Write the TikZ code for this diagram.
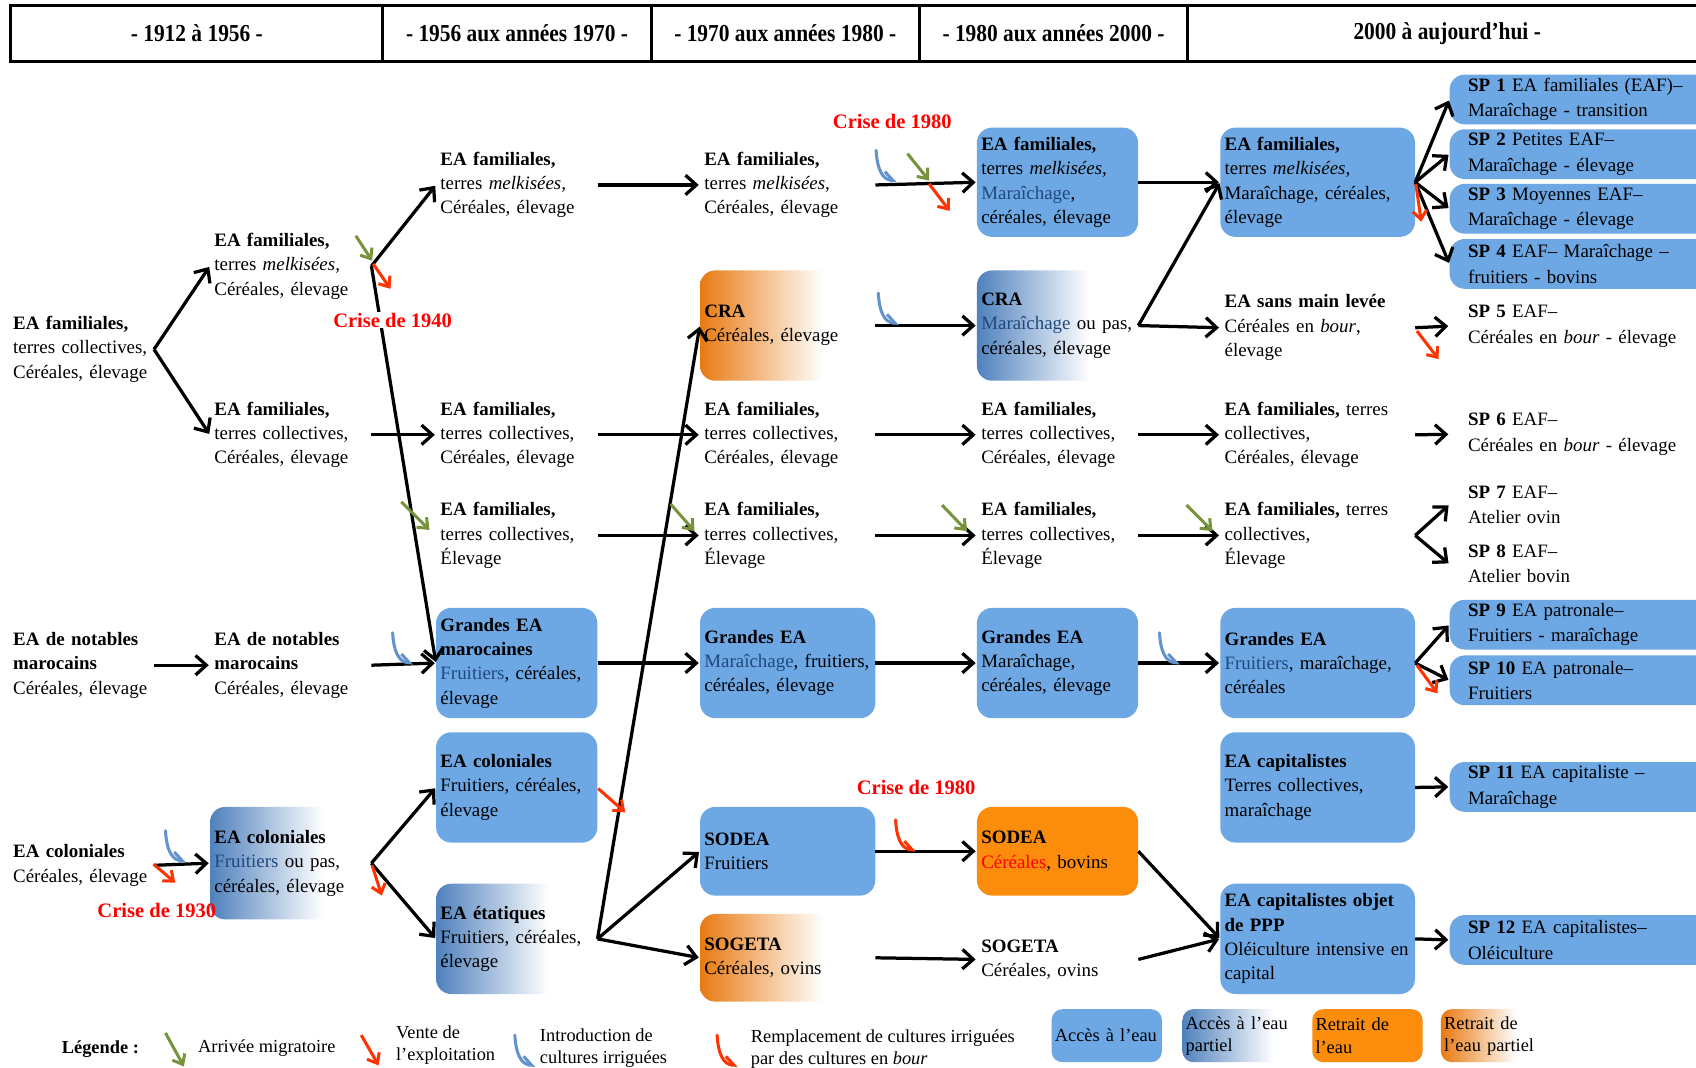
\documentclass[tikz,border=0pt]{standalone}
\usepackage{fontspec}
\setmainfont{Liberation Serif}
\newfontfamily\hdrfont[FakeStretch=0.88]{Liberation Serif}
\usetikzlibrary{arrows.meta}
\definecolor{boxblue}{RGB}{109,168,229}
\definecolor{gradblue}{RGB}{79,129,189}
\definecolor{dblue}{RGB}{31,73,125}
\definecolor{orangeS}{RGB}{251,140,12}
\definecolor{gradorange}{RGB}{232,122,17}
\definecolor{redT}{RGB}{255,0,0}
\definecolor{redA}{RGB}{255,51,0}
\definecolor{greenA}{RGB}{119,147,60}
\definecolor{hookblue}{RGB}{99,146,205}
\pgfdeclarehorizontalshading{bluefade}{100bp}{color(0bp)=(gradblue); color(25bp)=(gradblue); color(60bp)=(white); color(100bp)=(white)}
\pgfdeclarehorizontalshading{orangefade}{100bp}{color(0bp)=(gradorange); color(25bp)=(gradorange); color(60bp)=(white); color(100bp)=(white)}
\newcommand\dbl[1]{\textcolor{dblue}{#1}}
\tikzset{
 txt/.style={anchor=west, align=left, inner xsep=4pt, inner ysep=2pt, font=\fontsize{17.5}{22.5}\selectfont},
 w0/.style={text width=126pt, minimum width=134pt},
 wA/.style={text width=141pt, minimum width=149pt},
 wB/.style={text width=154pt, minimum width=162pt},
 wC/.style={text width=172pt, minimum width=180pt},
 wsp/.style={text width=246pt, minimum width=280pt, inner xsep=17pt, minimum height=46pt, font=\fontsize{17.5}{23.5}\selectfont},
 bbox/.style={txt, fill=boxblue, rounded corners=14pt},
 gbbox/.style={txt, shade, shading=bluefade, rounded corners=14pt},
 obox/.style={txt, fill=orangeS, rounded corners=14pt},
 ogbox/.style={txt, shade, shading=orangefade, rounded corners=14pt},
 hdr/.style={font=\hdrfont\bfseries\fontsize{22.5}{25}\selectfont, inner sep=0pt},
 hdrline/.style={line width=2.8pt},
 crise/.style={font=\bfseries\fontsize{19}{22}\selectfont, text=redT, inner sep=1pt},
 lgd/.style={anchor=west, align=left, inner sep=0pt, font=\fontsize{17}{20.5}\selectfont},
 lbox/.style={lgd, inner xsep=3pt, minimum height=49pt, rounded corners=10pt},
 arr/.style={line width=3pt, -{Straight Barb[length=10pt,width=18pt]}, shorten >=1pt},
 garr/.style={draw=greenA, line width=2.8pt, -{Straight Barb[length=8pt,width=13pt]}},
 rarr/.style={draw=redA, line width=2.8pt, -{Straight Barb[length=8pt,width=13pt]}},
 irrhook/.pic={\draw[line width=2.8pt, line cap=round, -{Straight Barb[left,length=8pt,width=15pt]}] (0,0) .. controls (1,18) and (6,27) .. (19,28);}
}
\begin{document}
\begin{tikzpicture}[x=1pt,y=-1pt]
\useasboundingbox (0,0) rectangle (1568,987);
\fill[white] (0,0) rectangle (1568,987);
% header
\draw[hdrline] (10,5) rectangle (1590,57);
\foreach \x in {354,602,850,1098} \draw[hdrline] (\x,5) -- (\x,57);
\node[hdr] (h1) at (182,31) {- 1912 à 1956 -};
\node[hdr] (h2) at (478,31) {- 1956 aux années 1970 -};
\node[hdr] (h3) at (726,31) {- 1970 aux années 1980 -};
\node[hdr] (h4) at (974,31) {- 1980 aux années 2000 -};
\node[hdr] (h5) at (1338,31) {2000 à aujourd’hui -};
% column 0
\node[txt,w0] (a0) at (8,323) {\textbf{EA familiales,}\\terres collectives,\\Céréales, élevage};
\node[txt,w0] (b0) at (8,615) {\textbf{EA de notables}\\\textbf{marocains}\\Céréales, élevage};
\node[txt,w0] (c0) at (8,800) {\textbf{EA coloniales}\\Céréales, élevage};
% column 1
\node[txt,wA] (n1a) at (194,246) {\textbf{EA familiales,}\\terres \textit{melkisées,}\\Céréales, élevage};
\node[txt,wA] (n1b) at (194,402) {\textbf{EA familiales,}\\terres collectives,\\Céréales, élevage};
\node[txt,wA] (n1c) at (194,615) {\textbf{EA de notables}\\\textbf{marocains}\\Céréales, élevage};
\node[gbbox,wA,minimum height=104pt] (n1d) at (194,798) {\textbf{EA coloniales}\\\dbl{Fruitiers} ou pas,\\céréales, élevage};
% column 2
\node[txt,wA] (n2a) at (403,171) {\textbf{EA familiales,}\\terres \textit{melkisées,}\\Céréales, élevage};
\node[txt,wA] (n2b) at (403,402) {\textbf{EA familiales,}\\terres collectives,\\Céréales, élevage};
\node[txt,wA] (n2c) at (403,495) {\textbf{EA familiales,}\\terres collectives,\\Élevage};
\node[bbox,wA,minimum height=102pt] (n2d) at (403,613) {\textbf{Grandes EA}\\\textbf{marocaines}\\\dbl{Fruitiers}, céréales,\\élevage};
\node[bbox,wA,minimum height=102pt] (n2e) at (403,728) {\textbf{EA coloniales}\\Fruitiers, céréales,\\élevage};
\node[gbbox,wA,minimum height=102pt] (n2f) at (403,868) {\textbf{EA étatiques}\\Fruitiers, céréales,\\élevage};
% column 3
\node[txt,wB] (n3a) at (647,171) {\textbf{EA familiales,}\\terres \textit{melkisées,}\\Céréales, élevage};
\node[ogbox,wB,minimum height=102pt] (n3b) at (647,301) {\textbf{CRA}\\Céréales, élevage};
\node[txt,wB] (n3c) at (647,402) {\textbf{EA familiales,}\\terres collectives,\\Céréales, élevage};
\node[txt,wB] (n3d) at (647,495) {\textbf{EA familiales,}\\terres collectives,\\Élevage};
\node[bbox,wB,minimum height=102pt] (n3e) at (647,613) {\textbf{Grandes EA}\\\dbl{Maraîchage}, fruitiers,\\céréales, élevage};
\node[bbox,wB,minimum height=82pt] (n3f) at (647,787) {\textbf{SODEA}\\Fruitiers};
\node[ogbox,wB,minimum height=81pt] (n3g) at (647,885.5) {\textbf{SOGETA}\\Céréales, ovins};
% column 4
\node[bbox,wA,minimum height=101pt] (n4a) at (903,168.5) {\textbf{EA familiales,}\\terres \textit{melkisées,}\\\dbl{Maraîchage},\\céréales, élevage};
\node[gbbox,wA,minimum height=102pt] (n4b) at (903,301) {\textbf{CRA}\\\dbl{Maraîchage} ou pas,\\céréales, élevage};
\node[txt,wA] (n4c) at (903,402) {\textbf{EA familiales,}\\terres collectives,\\Céréales, élevage};
\node[txt,wA] (n4d) at (903,495) {\textbf{EA familiales,}\\terres collectives,\\Élevage};
\node[bbox,wA,minimum height=102pt] (n4e) at (903,613) {\textbf{Grandes EA}\\Maraîchage,\\céréales, élevage};
\node[obox,wA,minimum height=82pt] (n4f) at (903,787) {\textbf{SODEA}\\\textcolor{redT}{Céréales}, bovins};
\node[txt,wA] (n4g) at (903,887) {\textbf{SOGETA}\\Céréales, ovins};
% column 5
\node[bbox,wC,minimum height=101pt] (n5a) at (1128,168.5) {\textbf{EA familiales,}\\terres \textit{melkisées,}\\Maraîchage, céréales,\\élevage};
\node[txt,wC] (n5b) at (1128,303) {\textbf{EA sans main levée}\\Céréales en \textit{bour},\\élevage};
\node[txt,wC] (n5c) at (1128,402) {\textbf{EA familiales,} terres\\collectives,\\Céréales, élevage};
\node[txt,wC] (n5d) at (1128,495) {\textbf{EA familiales,} terres\\collectives,\\Élevage};
\node[bbox,wC,minimum height=102pt] (n5e) at (1128,613) {\textbf{Grandes EA}\\\dbl{Fruitiers}, maraîchage,\\céréales};
\node[bbox,wC,minimum height=102pt] (n5f) at (1128,728) {\textbf{EA capitalistes}\\Terres collectives,\\maraîchage};
\node[bbox,wC,minimum height=102pt] (n5g) at (1128,868) {\textbf{EA capitalistes objet}\\\textbf{de PPP}\\Oléiculture intensive en\\capital};
% column 6
\node[bbox,wsp] (sp1) at (1340,92) {\textbf{SP 1} EA familiales (EAF)–\\Maraîchage - transition};
\node[bbox,wsp] (sp2) at (1340,142.5) {\textbf{SP 2} Petites EAF–\\Maraîchage - élevage};
\node[bbox,wsp] (sp3) at (1340,193) {\textbf{SP 3} Moyennes EAF–\\Maraîchage - élevage};
\node[bbox,wsp] (sp4) at (1340,244) {\textbf{SP 4} EAF– Maraîchage –\\fruitiers - bovins};
\node[txt,wsp] (sp5) at (1340,301.5) {\textbf{SP 5} EAF–\\Céréales en \textit{bour} - élevage};
\node[txt,wsp] (sp6) at (1340,401.5) {\textbf{SP 6} EAF–\\Céréales en \textit{bour} - élevage};
\node[txt,wsp] (sp7) at (1340,466.5) {\textbf{SP 7} EAF–\\Atelier ovin};
\node[txt,wsp] (sp8) at (1340,521.5) {\textbf{SP 8} EAF–\\Atelier bovin};
\node[bbox,wsp] (sp9) at (1340,577.5) {\textbf{SP 9} EA patronale–\\Fruitiers - maraîchage};
\node[bbox,wsp] (sp10) at (1340,629) {\textbf{SP 10} EA patronale–\\Fruitiers};
\node[bbox,wsp] (sp11) at (1340,727.5) {\textbf{SP 11} EA capitaliste –\\Maraîchage};
\node[bbox,wsp] (sp12) at (1340,869) {\textbf{SP 12} EA capitalistes–\\Oléiculture};
% black connectors
\draw[arr] (a0.east) -- (n1a.west);
\draw[arr] (a0.east) -- (n1b.west);
\draw[arr] (b0.east) -- (n1c.west);
\draw[arr] (c0.east) -- (n1d.west);
\draw[arr] (n1a.east) -- (n2a.west);
\draw[arr] (n1a.east) -- (n2d.west);
\draw[arr] (n1b.east) -- (n2b.west);
\draw[arr] (n1c.east) -- (n2d.west);
\draw[arr] (n1d.east) -- (n2e.west);
\draw[arr] (n1d.east) -- (n2f.west);
\draw[arr] (n2a.east) -- (n3a.west);
\draw[arr] (n2b.east) -- (n3c.west);
\draw[arr] (n2c.east) -- (n3d.west);
\draw[arr] (n2d.east) -- (n3e.west);
\draw[arr] (n2f.east) -- (n3b.west);
\draw[arr] (n2f.east) -- (n3f.west);
\draw[arr] (n2f.east) -- (n3g.west);
\draw[arr] (n3a.east) -- (n4a.west);
\draw[arr] (n3b.east) -- (n4b.west);
\draw[arr] (n3c.east) -- (n4c.west);
\draw[arr] (n3d.east) -- (n4d.west);
\draw[arr] (n3e.east) -- (n4e.west);
\draw[arr] (n3f.east) -- (n4f.west);
\draw[arr] (n3g.east) -- (n4g.west);
\draw[arr] (n4a.east) -- (n5a.west);
\draw[arr] (n4b.east) -- (n5a.west);
\draw[arr] (n4b.east) -- (n5b.west);
\draw[arr] (n4c.east) -- (n5c.west);
\draw[arr] (n4d.east) -- (n5d.west);
\draw[arr] (n4e.east) -- (n5e.west);
\draw[arr] (n4f.east) -- (n5g.west);
\draw[arr] (n4g.east) -- (n5g.west);
\draw[arr] (n5a.east) -- (sp1.west);
\draw[arr] (n5a.east) -- (sp2.west);
\draw[arr] (n5a.east) -- (sp3.west);
\draw[arr] (n5a.east) -- (sp4.west);
\draw[arr] (n5b.east) -- (sp5.west);
\draw[arr] (n5c.east) -- (sp6.west);
\draw[arr] (n5d.east) -- (sp7.west);
\draw[arr] (n5d.east) -- (sp8.west);
\draw[arr] (n5e.east) -- (sp9.west);
\draw[arr] (n5e.east) -- (sp10.west);
\draw[arr] (n5f.east) -- (sp11.west);
\draw[arr] (n5g.east) -- (sp12.west);
% migration arrows
\draw[garr] (329,218) -- (344,241);
\draw[garr] (371,464) -- (397,490);
\draw[garr] (620,466) -- (642,491);
\draw[garr] (839,142) -- (859,167);
\draw[garr] (871,467) -- (894,491);
\draw[garr] (1097,467) -- (1121,491);
% sale arrows
\draw[rarr] (345,244) -- (361,267);
\draw[rarr] (142,799) -- (162,816);
\draw[rarr] (344,800) -- (353,828);
\draw[rarr] (553,729) -- (578,751);
\draw[rarr] (859,170) -- (878,195);
\draw[rarr] (1309,170) -- (1314,205);
\draw[rarr] (1310,306) -- (1330,332);
\draw[rarr] (1310,615) -- (1329,641);
% irrigation hooks
\pic[color=hookblue] at (153,768) {irrhook};
\pic[color=hookblue] at (363,585) {irrhook};
\pic[color=hookblue] at (810,139) {irrhook};
\pic[color=hookblue] at (812,271) {irrhook};
\pic[color=hookblue] at (1072,585) {irrhook};
\pic[color=redA] at (828,758) {irrhook};
% crisis labels
\node[crise,fill=white] (k40) at (363,296) {Crise de 1940};
\node[crise] (k30) at (145,842) {Crise de 1930};
\node[crise] (k80a) at (825,112) {Crise de 1980};
\node[crise] (k80b) at (847,728) {Crise de 1980};
% legend
\node[lgd] (lg0) at (57,970) {\textbf{Légende :}};
\draw[garr] (153,955) -- (170,986);
\node[lgd] (lg1) at (183,969) {Arrivée migratoire};
\draw[rarr] (334,957) -- (350,985);
\node[lgd] (lg2) at (366,966) {Vente de\\l’exploitation};
\pic[color=hookblue] at (476,957) {irrhook};
\node[lgd] (lg3) at (499,969) {Introduction de\\cultures irriguées};
\pic[color=redA] at (663,957) {irrhook};
\node[lgd] (lg4) at (694,969.5) {Remplacement de cultures irriguées\\par des cultures en \textit{bour}};
\node[lbox,fill=boxblue,text width=96pt,minimum width=102pt] (lb1) at (972,957.5) {Accès à l’eau};
\node[lbox,shade,shading=bluefade,text width=114pt,minimum width=120pt] (lb2) at (1093,957.5) {Accès à l’eau\\partiel};
\node[lbox,fill=orangeS,text width=96pt,minimum width=102pt] (lb3) at (1213,957.5) {Retrait de\\l’eau};
\node[lbox,shade,shading=orangefade,text width=94pt,minimum width=100pt] (lb4) at (1332,957.5) {Retrait de\\l’eau partiel};
\end{tikzpicture}
\end{document}
